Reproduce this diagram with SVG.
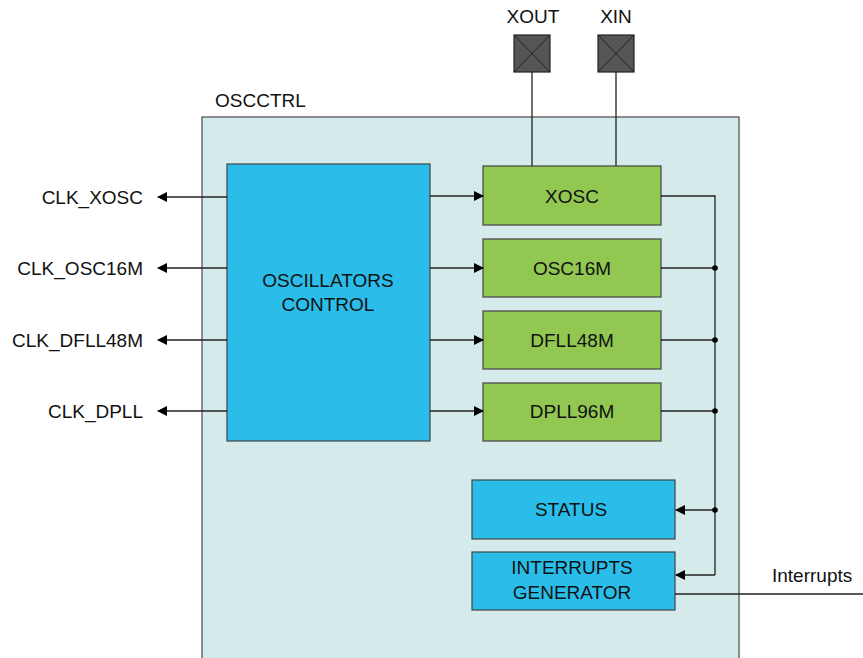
<svg xmlns="http://www.w3.org/2000/svg" width="863" height="658" viewBox="0 0 863 658">
<defs>
<marker id="ah" markerWidth="10" markerHeight="10" refX="9" refY="5" orient="auto" markerUnits="userSpaceOnUse">
<path d="M0,0 L10,5 L0,10 Z" fill="#000"/>
</marker>
<style>
text{font-family:"Liberation Sans",Arial,sans-serif;font-size:19px;fill:#111}
.c{text-anchor:middle}
.r{text-anchor:end}
.blue{fill:#2bbdea;stroke:#444;stroke-width:1.2}
.green{fill:#92c852;stroke:#444;stroke-width:1.2}
.ln{stroke:#222;stroke-width:1.3;fill:none}
.pad{fill:#555;stroke:#222;stroke-width:1.2}
</style>
</defs>
<rect width="863" height="658" fill="#fff"/>
<g id="oscctrl">
<rect x="202" y="117" width="537" height="560" fill="#d5ebeb" stroke="#555" stroke-width="1.3"/>
<text x="215" y="107">OSCCTRL</text>
</g>
<g id="xout">
<rect class="pad" x="514" y="35" width="36" height="37"/>
<path d="M514,35 L550,72 M550,35 L514,72" stroke="#222" stroke-width="1"/>
<text class="c" x="533" y="23">XOUT</text>
</g>
<g id="xin">
<rect class="pad" x="598" y="35" width="36" height="37"/>
<path d="M598,35 L634,72 M634,35 L598,72" stroke="#222" stroke-width="1"/>
<text class="c" x="616" y="23">XIN</text>
</g>
<g id="osc-control">
<rect class="blue" x="227" y="164" width="203" height="277"/>
<text class="c" x="328" y="287">OSCILLATORS</text>
<text class="c" x="328" y="311">CONTROL</text>
</g>
<g id="xosc">
<rect class="green" x="483" y="166" width="178" height="59"/>
<text class="c" x="572" y="203">XOSC</text>
</g>
<g id="osc16m">
<rect class="green" x="483" y="239" width="178" height="58"/>
<text class="c" x="572" y="275">OSC16M</text>
</g>
<g id="dfll48m">
<rect class="green" x="483" y="311" width="178" height="58"/>
<text class="c" x="572" y="347">DFLL48M</text>
</g>
<g id="dpll96m">
<rect class="green" x="483" y="383" width="178" height="58"/>
<text class="c" x="572" y="418">DPLL96M</text>
</g>
<g id="status">
<rect class="blue" x="472" y="480" width="203" height="59"/>
<text class="c" x="571" y="516">STATUS</text>
</g>
<g id="interrupts-generator">
<rect class="blue" x="472" y="552" width="203" height="58"/>
<text class="c" x="572" y="574">INTERRUPTS</text>
<text class="c" x="572" y="599">GENERATOR</text>
</g>
<g id="labels">
<text class="r" x="143" y="204">CLK_XOSC</text>
<text class="r" x="143" y="275">CLK_OSC16M</text>
<text class="r" x="143" y="347">CLK_DFLL48M</text>
<text class="r" x="143" y="418">CLK_DPLL</text>
<text x="772" y="582">Interrupts</text>
</g>
<g id="connectors">
<path class="ln" d="M532,72 V166 M616,72 V166"/>
<path class="ln" d="M227,197 H158" marker-end="url(#ah)"/>
<path class="ln" d="M227,268 H158" marker-end="url(#ah)"/>
<path class="ln" d="M227,340 H158" marker-end="url(#ah)"/>
<path class="ln" d="M227,411 H158" marker-end="url(#ah)"/>
<path class="ln" d="M430,196 H483" marker-end="url(#ah)"/>
<path class="ln" d="M430,268 H483" marker-end="url(#ah)"/>
<path class="ln" d="M430,340 H483" marker-end="url(#ah)"/>
<path class="ln" d="M430,411 H483" marker-end="url(#ah)"/>
<path class="ln" d="M661,196 H715 V575"/>
<path class="ln" d="M661,268 H715 M661,340 H715 M661,411 H715"/>
<path class="ln" d="M715,510 H676" marker-end="url(#ah)"/>
<path class="ln" d="M715,575 H676" marker-end="url(#ah)"/>
<path class="ln" d="M675,594 H863"/>
<circle cx="715" cy="268" r="2.8" fill="#000"/>
<circle cx="715" cy="340" r="2.8" fill="#000"/>
<circle cx="715" cy="411" r="2.8" fill="#000"/>
<circle cx="715" cy="510" r="2.8" fill="#000"/>
</g>
</svg>
